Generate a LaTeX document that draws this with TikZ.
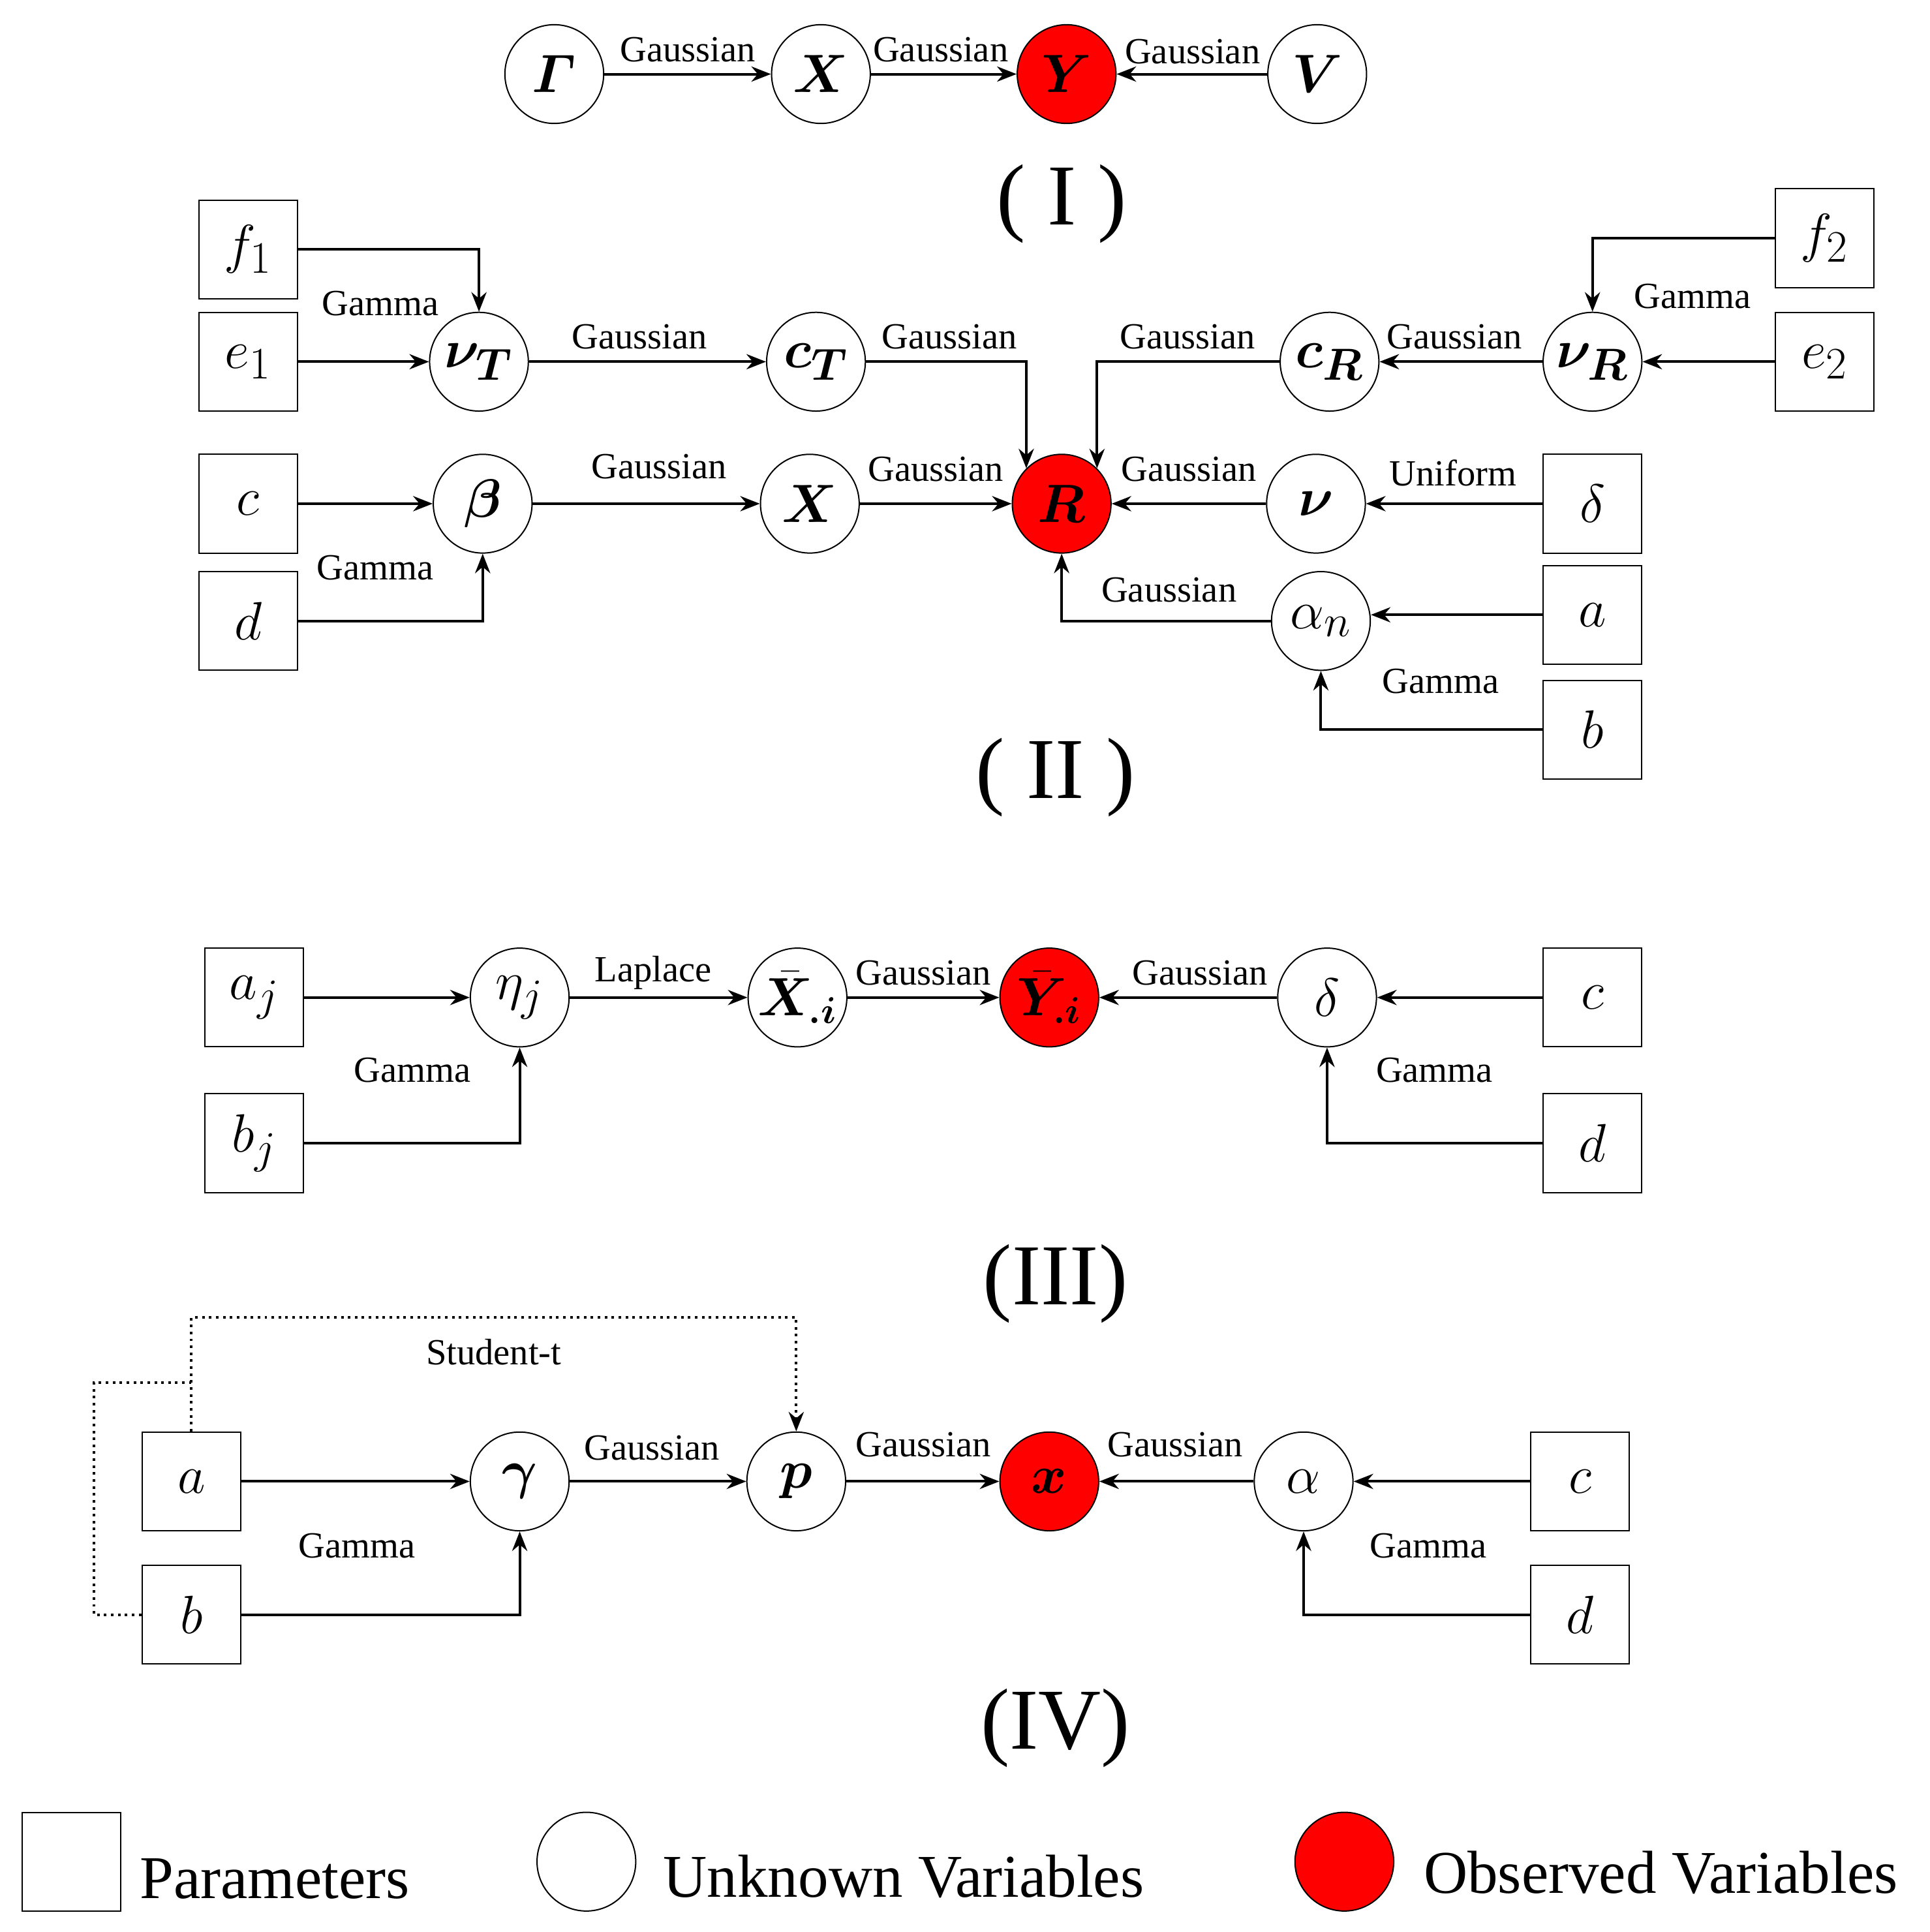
\documentclass[tikz,border=0pt]{standalone}
\usepackage{fontspec}
\setmainfont{Liberation Serif}
\usepackage{amsmath,bm}
\usetikzlibrary{arrows.meta}
\begin{document}
\begin{tikzpicture}[x=0.02cm,y=-0.02cm,
 every node/.style={inner sep=0pt},
 par/.style={draw,line width=0.6pt,minimum size=1.6cm,font=\fontsize{30}{34}\selectfont},
 unk/.style={draw,circle,line width=0.6pt,minimum size=1.6cm,font=\fontsize{30}{34}\selectfont},
 obs/.style={unk,fill=red},
 lab/.style={font=\fontsize{17}{20}\selectfont},
 big/.style={font=\fontsize{40}{46}\selectfont},
 leg/.style={font=\fontsize{28}{32}\selectfont,anchor=west},
 ar/.style={-{Stealth[length=9pt,width=7pt]},line width=1.2pt},
 dt/.style={dotted,line width=1.2pt}]
\useasboundingbox (0,0) rectangle (1563,1565);
% Part I
\node[unk] (G) at (449,60) {$\bm{\varGamma}$};
\node[unk] (X1) at (665,60) {$\bm{X}$};
\node[obs] (Y1) at (864,60) {$\bm{Y}$};
\node[unk] (V1) at (1067,60) {$\bm{V}$};
\draw[ar] (G) -- (X1); \draw[ar] (X1) -- (Y1); \draw[ar] (V1) -- (Y1);
\node[lab] at (557,40) {Gaussian};
\node[lab] at (762,40) {Gaussian};
\node[lab] at (966,42) {Gaussian};
\node[big] at (860,165) {( I )};
% Part II
\node[par] (f1) at (201,202) {$f_1$};
\node[par] (e1) at (201,293) {$e_1$};
\node[par] (c2) at (201,408) {$c$};
\node[par] (d2) at (201,503) {$d$};
\node[unk] (vT) at (388,293) {$\bm{\nu}_{\bm{T}}$};
\node[unk] (cT) at (661,293) {$\bm{c}_{\bm{T}}$};
\node[unk] (cR) at (1077,293) {$\bm{c}_{\bm{R}}$};
\node[unk] (vR) at (1290,293) {$\bm{\nu}_{\bm{R}}$};
\node[par] (f2) at (1478,193) {$f_2$};
\node[par] (e2) at (1478,293) {$e_2$};
\node[unk] (be) at (391,408) {$\bm{\beta}$};
\node[unk] (X2) at (656,408) {$\bm{X}$};
\node[obs] (R) at (860,408) {$\bm{R}$};
\node[unk] (nu) at (1066,408) {$\bm{\nu}$};
\node[par] (de) at (1290,408) {$\delta$};
\node[unk] (an) at (1070,503) {$\alpha_n$};
\node[par] (a2) at (1290,498) {$a$};
\node[par] (b2) at (1290,591) {$b$};
\draw[ar] (f1.east) -| (vT.north);
\draw[ar] (e1) -- (vT);
\draw[ar] (vT) -- (cT);
\draw[ar] (cT.east) -| (R.135);
\draw[ar] (cR.west) -| (R.45);
\draw[ar] (vR) -- (cR);
\draw[ar] (e2) -- (vR);
\draw[ar] (f2.west) -| (vR.north);
\draw[ar] (c2) -- (be);
\draw[ar] (d2.east) -| (be.south);
\draw[ar] (be) -- (X2);
\draw[ar] (X2) -- (R);
\draw[ar] (nu) -- (R);
\draw[ar] (de) -- (nu);
\draw[ar] (an.west) -| (R.south);
\draw[ar] (a2.west) -- (an.east |- a2.west);
\draw[ar] (b2.west) -| (an.south);
\node[lab] at (308,246) {Gamma};
\node[lab] at (518,273) {Gaussian};
\node[lab] at (769,273) {Gaussian};
\node[lab] at (962,273) {Gaussian};
\node[lab] at (1178,273) {Gaussian};
\node[lab] at (1371,240) {Gamma};
\node[lab] at (304,460) {Gamma};
\node[lab] at (534,378) {Gaussian};
\node[lab] at (758,380) {Gaussian};
\node[lab] at (963,380) {Gaussian};
\node[lab] at (1177,383) {Uniform};
\node[lab] at (947,478) {Gaussian};
\node[lab] at (1167,552) {Gamma};
\node[big] at (855,630) {( II )};
% Part III
\node[par] (aj) at (206,808) {$a_j$};
\node[par] (bj) at (206,926) {$b_j$};
\node[unk] (eta) at (421,808) {$\eta_j$};
\node[unk,font=\fontsize{23}{26}\selectfont] (Xb) at (646,808) {$\bar{\bm{X}}_{\bm{.i}}$};
\node[obs,font=\fontsize{23}{26}\selectfont] (Yb) at (850,808) {$\bar{\bm{Y}}_{\bm{.i}}$};
\node[unk] (de3) at (1075,808) {$\delta$};
\node[par] (c3) at (1290,808) {$c$};
\node[par] (d3) at (1290,926) {$d$};
\draw[ar] (aj) -- (eta);
\draw[ar] (bj.east) -| (eta.south);
\draw[ar] (eta) -- (Xb);
\draw[ar] (Xb) -- (Yb);
\draw[ar] (de3) -- (Yb);
\draw[ar] (c3) -- (de3);
\draw[ar] (d3.west) -| (de3.south);
\node[lab] at (529,788) {Laplace};
\node[lab] at (748,788) {Gaussian};
\node[lab] at (972,788) {Gaussian};
\node[lab] at (334,867) {Gamma};
\node[lab] at (1162,867) {Gamma};
\node[big] at (855,1040) {(III)};
% Part IV
\node[par] (a4) at (155,1200) {$a$};
\node[par] (b4) at (155,1308) {$b$};
\node[unk] (ga) at (421,1200) {$\bm{\gamma}$};
\node[unk] (p) at (645,1200) {$\bm{p}$};
\node[obs] (x4) at (850,1200) {$\bm{x}$};
\node[unk] (al) at (1056,1200) {$\alpha$};
\node[par] (c4) at (1280,1200) {$c$};
\node[par] (d4) at (1280,1308) {$d$};
\coordinate (t1) at (155,1067);
\coordinate (t2) at (76,1120);
\draw[ar] (a4) -- (ga);
\draw[ar] (b4.east) -| (ga.south);
\draw[ar] (ga) -- (p);
\draw[ar] (p) -- (x4);
\draw[ar] (al) -- (x4);
\draw[ar] (c4) -- (al);
\draw[ar] (d4.west) -| (al.south);
\draw[dt,-{Stealth[length=9pt,width=7pt]}] (a4.north) -- (t1) -| (p.north);
\draw[dt] (b4.west) -| (t2) -- (a4.north |- t2);
\node[lab] at (400,1095) {Student-t};
\node[lab] at (528,1173) {Gaussian};
\node[lab] at (748,1170) {Gaussian};
\node[lab] at (952,1170) {Gaussian};
\node[lab] at (289,1252) {Gamma};
\node[lab] at (1157,1252) {Gamma};
\node[big] at (855,1400) {(IV)};
% Legend
\node[par] (lp) at (58,1508) {};
\node[unk] (lu) at (475,1508) {};
\node[obs] (lo) at (1089,1508) {};
\node[leg] at (113,1522) {Parameters};
\node[leg] at (537,1520) {Unknown Variables};
\node[leg] at (1153,1517) {Observed Variables};
\end{tikzpicture}
\end{document}
